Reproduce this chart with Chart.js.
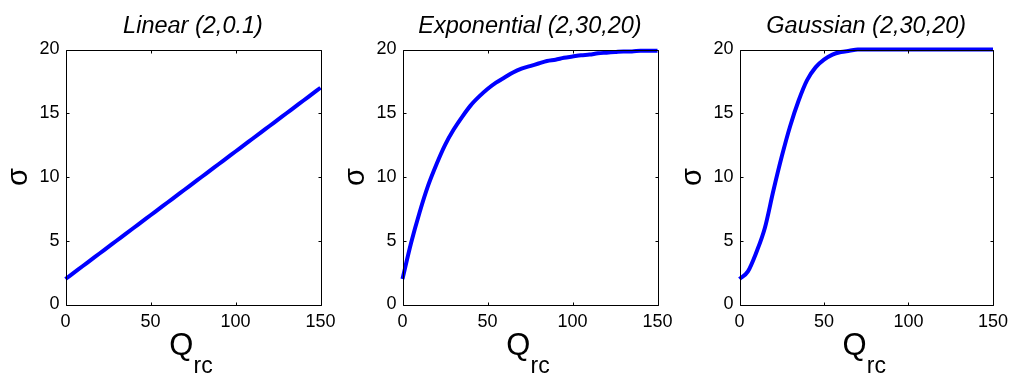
<!DOCTYPE html>
<html>
<head>
<meta charset="utf-8">
<script src="https://cdn.jsdelivr.net/npm/chart.js@4"></script>
<style>
  html, body { margin: 0; padding: 0; background: #fff; }
  body { width: 1015px; height: 376px; position: relative; overflow: hidden; }
  .panel { position: absolute; top: 0; width: 343px; height: 376px; }
</style>
</head>
<body>
<div class="panel" style="left:0px"><canvas id="c0" width="343" height="376"></canvas></div>
<div class="panel" style="left:337px"><canvas id="c1" width="343" height="376"></canvas></div>
<div class="panel" style="left:674px"><canvas id="c2" width="341" height="376"></canvas></div>
<script>
// Q_rc sample points (every 5 units)
const qValues = [0, 5, 10, 15, 20, 25, 30, 35, 40, 45, 50, 55, 60, 65, 70, 75,
  80, 85, 90, 95, 100, 105, 110, 115, 120, 125, 130, 135, 140, 145, 150];

const linearSigma = [2.0, 2.5, 3.0, 3.5, 4.0, 4.5, 5.0, 5.5, 6.0, 6.5, 7.0, 7.5,
  8.0, 8.5, 9.0, 9.5, 10.0, 10.5, 11.0, 11.5, 12.0, 12.5, 13.0, 13.5, 14.0, 14.5,
  15.0, 15.5, 16.0, 16.5, 17.0];

const expSigma = [2.0, 4.8, 7.2, 9.3, 11.0, 12.5, 13.7, 14.7, 15.6, 16.3, 16.9,
  17.4, 17.8, 18.2, 18.5, 18.7, 18.9, 19.1, 19.2, 19.35, 19.45, 19.55, 19.6,
  19.7, 19.75, 19.8, 19.85, 19.85, 19.9, 19.9, 19.9];

const gaussSigma = [2.0, 2.6, 4.1, 6.0, 8.9, 11.6, 14.0, 16.0, 17.6, 18.6, 19.2,
  19.6, 19.8, 19.9, 20.0, 20.0, 20.0, 20.0, 20.0, 20.0, 20.0, 20.0, 20.0, 20.0,
  20.0, 20.0, 20.0, 20.0, 20.0, 20.0, 20.0];

const titles = ['Linear (2,0.1)', 'Exponential (2,30,20)', 'Gaussian (2,30,20)'];
const series = [linearSigma, expSigma, gaussSigma];

const xTickStep = 50;
const yTickStep = 5;
const fontFamily = '"Liberation Sans", Arial, Helvetica, sans-serif';

// box + inward ticks on every side, plus title and axis labels
const matlabAxes = {
  id: 'matlabAxes',
  afterDraw(chart, args, opts) {
    const ctx = chart.ctx;
    const a = chart.chartArea;
    const xs = chart.scales.x, ys = chart.scales.y;
    const L = Math.round(a.left) + 0.5, R = Math.round(a.right) + 0.5;
    const T = Math.round(a.top) + 0.5, B = Math.round(a.bottom) + 0.5;
    const tick = 3;

    ctx.save();
    ctx.strokeStyle = '#000';
    ctx.lineWidth = 1;
    ctx.beginPath();
    ctx.rect(L, T, R - L, B - T);
    xs.ticks.forEach(t => {
      const px = Math.round(xs.getPixelForValue(t.value)) + 0.5;
      ctx.moveTo(px, B); ctx.lineTo(px, B - tick);
      ctx.moveTo(px, T); ctx.lineTo(px, T + tick);
    });
    ys.ticks.forEach(t => {
      const py = Math.round(ys.getPixelForValue(t.value)) + 0.5;
      ctx.moveTo(L, py); ctx.lineTo(L + tick, py);
      ctx.moveTo(R, py); ctx.lineTo(R - tick, py);
    });
    ctx.stroke();

    const cx = (a.left + a.right) / 2;
    ctx.fillStyle = '#000';

    // title
    ctx.font = 'italic 23.5px ' + fontFamily;
    ctx.textAlign = 'center';
    ctx.textBaseline = 'alphabetic';
    ctx.fillText(opts.title, cx, 33);

    // sigma (rotated like a y label)
    ctx.save();
    ctx.translate(19, (a.top + a.bottom) / 2);
    ctx.rotate(-Math.PI / 2);
    ctx.font = '29px ' + fontFamily;
    ctx.textBaseline = 'middle';
    ctx.fillText('σ', 0, 0);
    ctx.restore();

    // Q with subscript rc
    ctx.textAlign = 'left';
    ctx.font = '31px ' + fontFamily;
    const wQ = ctx.measureText('Q').width;
    ctx.font = '23px ' + fontFamily;
    const wSub = ctx.measureText('rc').width;
    const x0 = cx - 2 - (wQ + wSub) / 2;
    ctx.font = '31px ' + fontFamily;
    ctx.fillText('Q', x0, 355);
    ctx.font = '23px ' + fontFamily;
    ctx.fillText('rc', x0 + wQ, 373);
    ctx.restore();
  }
};

series.forEach((sig, i) => {
  const pts = qValues.map((q, k) => ({ x: q, y: sig[k] }));
  const canvas = document.getElementById('c' + i);
  new Chart(canvas, {
    type: 'line',
    data: {
      datasets: [{
        data: pts,
        borderColor: '#0000ff',
        borderWidth: 4,
        pointRadius: 0,
        cubicInterpolationMode: 'monotone',
        clip: false,
        fill: false
      }]
    },
    options: {
      responsive: false,
      animation: false,
      devicePixelRatio: 1,
      layout: { padding: { top: 49.5, right: canvas.width - 320.5, left: 0, bottom: 0 } },
      plugins: {
        legend: { display: false },
        tooltip: { enabled: false },
        title: { display: false },
        matlabAxes: { title: titles[i] }
      },
      scales: {
        x: {
          type: 'linear',
          min: 0, max: 150,
          grid: { display: false, drawTicks: false },
          border: { display: false },
          ticks: {
            stepSize: xTickStep, autoSkip: false, maxRotation: 0, padding: 7,
            color: '#000', font: { family: fontFamily, size: 18 }
          },
          afterFit(scale) { scale.height = 71.5; }
        },
        y: {
          type: 'linear',
          min: 0, max: 20,
          grid: { display: false, drawTicks: false },
          border: { display: false },
          ticks: {
            stepSize: yTickStep, autoSkip: false, padding: 6,
            color: '#000', font: { family: fontFamily, size: 18 }
          },
          afterFit(scale) { scale.width = 65.5; }
        }
      }
    },
    plugins: [matlabAxes]
  });
});
</script>
</body>
</html>
